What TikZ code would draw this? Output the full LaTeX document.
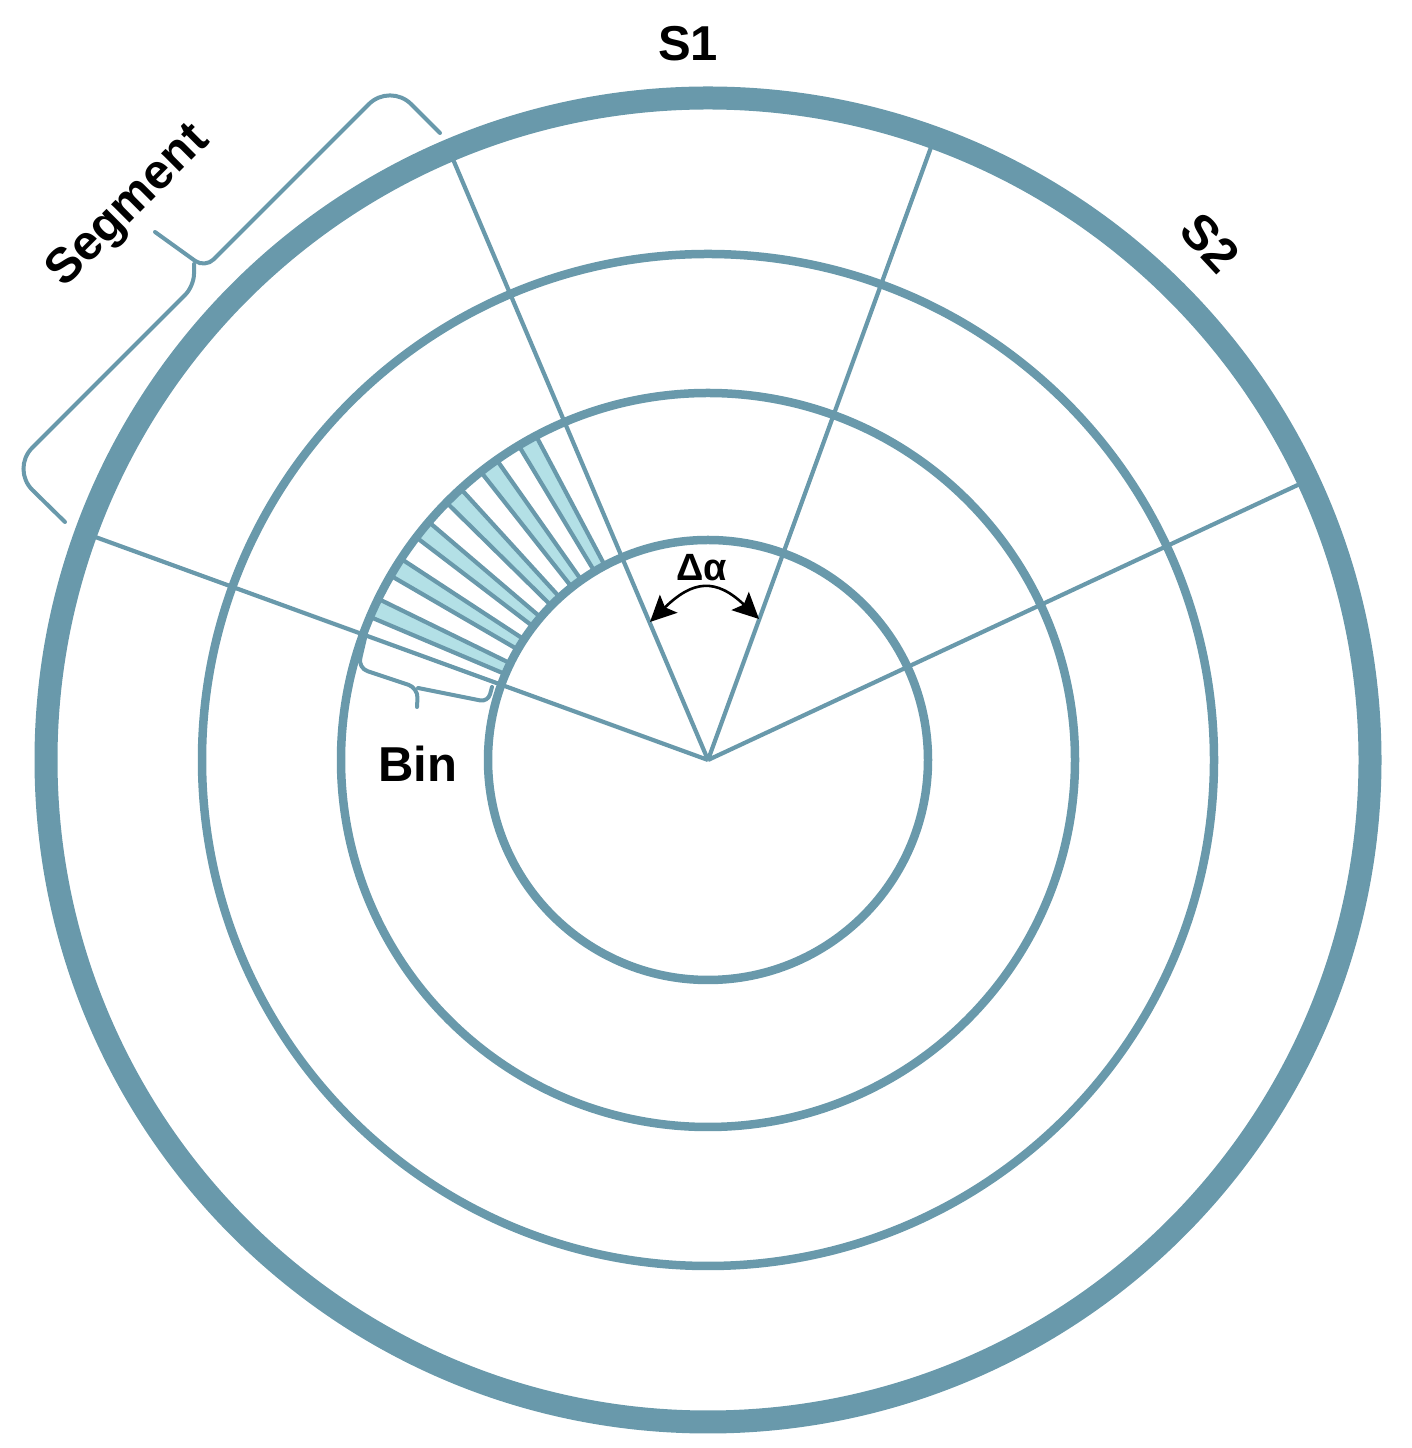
\documentclass[tikz,border=0pt]{standalone}
\usepackage{fontspec}
\setmainfont{Liberation Sans}
\usetikzlibrary{arrows.meta}
\definecolor{ring}{HTML}{6999AB}
\definecolor{binfill}{HTML}{B3E0E6}
\begin{document}
\begin{tikzpicture}[x=1pt,y=1pt,
  ringthin/.style={draw=ring,line width=8.5pt},
  ringthick/.style={draw=ring,line width=23pt},
  spoke/.style={draw=ring,line width=4.2pt},
  binstyle/.style={fill=binfill,draw=ring,line width=4.2pt,line join=round},
  bracestyle/.style={draw=ring,line width=4pt,line cap=round},
  biglabel/.style={font=\fontsize{49}{58}\selectfont\bfseries,inner sep=0pt},
  smalllabel/.style={font=\fontsize{38}{44}\selectfont\bfseries,inner sep=0pt},
  deltaarrow/.style={draw=black,line width=2.6pt,{Stealth[length=26pt,width=25pt,inset=5pt]}-{Stealth[length=26pt,width=25pt,inset=5pt]}}
]
\useasboundingbox (0,0) rectangle (1411,1448);
\coordinate (C) at (708,688);
\begin{scope}[shift={(C)}]
  % bins
  \foreach \a in {119.5,126.7,133.9,141.1,148.3,155.5} {
    \path[binstyle] ({\a-1.55}:220) -- ({\a-1.55}:367)
      arc[start angle={\a-1.55}, end angle={\a+1.55}, radius=367]
      -- ({\a+1.55}:220)
      arc[start angle={\a+1.55}, end angle={\a-1.55}, radius=220] -- cycle;
  }
  % spokes
  \foreach \a in {25,70,113,160} {
    \path[spoke] (0,0) -- (\a:660);
  }
  % rings
  \path[ringthin] (0,0) circle[radius=220];
  \path[ringthin] (0,0) circle[radius=367];
  \path[ringthin] (0,0) circle[radius=506];
  \path[ringthick] (0,0) circle[radius=662];
\end{scope}

% delta alpha arrow
\coordinate (da1) at (650,826);
\coordinate (da2) at (759,829);
\path[deltaarrow] (da1) .. controls (693,868) and (716,870) .. (da2);
\node[smalllabel] (dalabel) at (702,880) {Δα};

% segment brace
\path[bracestyle,rounded corners=30] (440,1315) -- (390,1365) -- (300,1275);
\path[bracestyle,rounded corners=12] (300,1275) -- (205,1180) -- (155,1216);
\path[bracestyle,rounded corners=12] (194,1184) -- (194,1162) -- (100,1068);
\path[bracestyle,rounded corners=30] (100,1068) -- (11,979) -- (65,926);

% bin brace
\path[bracestyle,rounded corners=10] (365,810) -- (358,780) -- (418,760) -- (417,741);
\path[bracestyle,rounded corners=8] (418,760) -- (488,746) -- (492,761);

% labels
\node[biglabel] (s1) at (688,1404) {S1};
\node[biglabel,rotate=-47] (s2) at (1210,1205) {S2};
\node[biglabel,rotate=45] (seg) at (129,1241) {Segment};
\node[biglabel] (bin) at (418,684) {Bin};
\end{tikzpicture}
\end{document}
